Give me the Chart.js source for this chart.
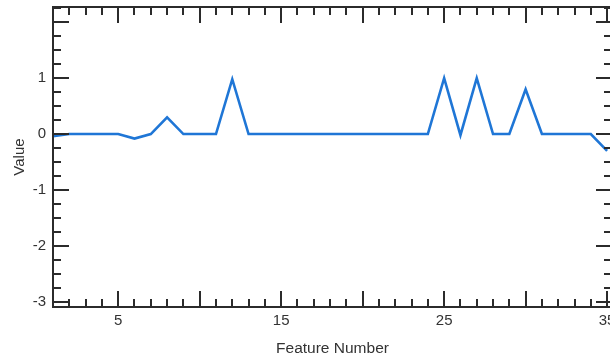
<!DOCTYPE html>
<html>
<head>
<meta charset="utf-8">
<script src="https://cdn.jsdelivr.net/npm/chart.js@4/dist/chart.umd.min.js"></script>
<style>
html,body{margin:0;padding:0;overflow:hidden;background:#fff;width:610px;height:354px}
#wrap{width:620px;height:370px}
</style>
</head>
<body>
<div id="wrap"><canvas id="featChart" width="620" height="370"></canvas></div>
<script>
const features = [1,2,3,4,5,6,7,8,9,10,11,12,13,14,15,16,17,18,19,20,21,22,23,24,25,26,27,28,29,30,31,32,33,34,35];
const values = [-0.04,0,0,0,0,-0.08,0,0.3,0,0,0,0.98,0,0,0,0,0,0,0,0,0,0,0,0,1.0,-0.02,1.0,0,0,0.8,0,0,0,0,-0.3];
const xLabels = [5,15,25,35];
const yLabels = [-3,-2,-1,0,1];

const axisColor = '#2b2b2b';
const textColor = '#333';

// inward tick marks on all four sides, like the original plot frame
const frameTicks = {
  id:'frameTicks',
  afterDatasetsDraw(chart) {
    const {ctx, chartArea:a, scales:{x, y}} = chart;
    ctx.save();
    ctx.strokeStyle = axisColor;
    ctx.lineWidth = 2;
    ctx.strokeRect(a.left, a.top, a.right-a.left, a.bottom-a.top);
    ctx.beginPath();
    for (let v=2; v<=35; v++) {
      const px = Math.round(x.getPixelForValue(v));
      const len = v%5===0 ? 16 : 8;
      ctx.moveTo(px, a.bottom); ctx.lineTo(px, a.bottom-len);
      ctx.moveTo(px, a.top); ctx.lineTo(px, a.top+len);
    }
    for (let k=-12; k<=9; k++) {
      const v = k/4;
      const py = Math.round(y.getPixelForValue(v));
      const len = k%4===0 ? 16 : 8;
      ctx.moveTo(a.left, py); ctx.lineTo(a.left+len, py);
      ctx.moveTo(a.right, py); ctx.lineTo(a.right-len, py);
    }
    ctx.stroke();
    ctx.restore();
  }
};

new Chart(document.getElementById('featChart'), {
  type:'line',
  data:{labels:features,datasets:[{data:features.map((f,i)=>({x:f,y:values[i]})),borderColor:'#1f76d6',borderWidth:2.6,pointRadius:0,tension:0,fill:false}]},
  options:{
    responsive:false,animation:false,
    layout:{padding:{top:7,right:8,left:0,bottom:0}},
    plugins:{legend:{display:false},tooltip:{enabled:false}},
    scales:{
      x:{type:'linear',min:1,max:35.3,
        afterBuildTicks:s=>{s.ticks=xLabels.map(v=>({value:v}));},
        afterFit:s=>{s.height=63;s.paddingLeft=0;s.paddingRight=0;},
        grid:{display:false,drawTicks:false},border:{display:false},
        ticks:{color:textColor,padding:5,font:{family:'Liberation Sans',size:15},maxRotation:0,autoSkip:false},
        title:{display:true,text:'Feature Number',color:textColor,font:{family:'Liberation Sans',size:15.5},padding:{top:0,bottom:12}}
      },
      y:{min:-3.09,max:2.27,
        afterBuildTicks:s=>{s.ticks=yLabels.map(v=>({value:v}));},
        afterFit:s=>{s.width=53;s.paddingTop=0;s.paddingBottom=0;},
        grid:{display:false,drawTicks:false},border:{display:false},
        ticks:{color:textColor,padding:7,font:{family:'Liberation Sans',size:15}},
        title:{display:true,text:'Value',color:textColor,font:{family:'Liberation Sans',size:15},padding:{top:11,bottom:0}}
      }
    }
  },
  plugins:[frameTicks]
});
</script>
</body>
</html>
